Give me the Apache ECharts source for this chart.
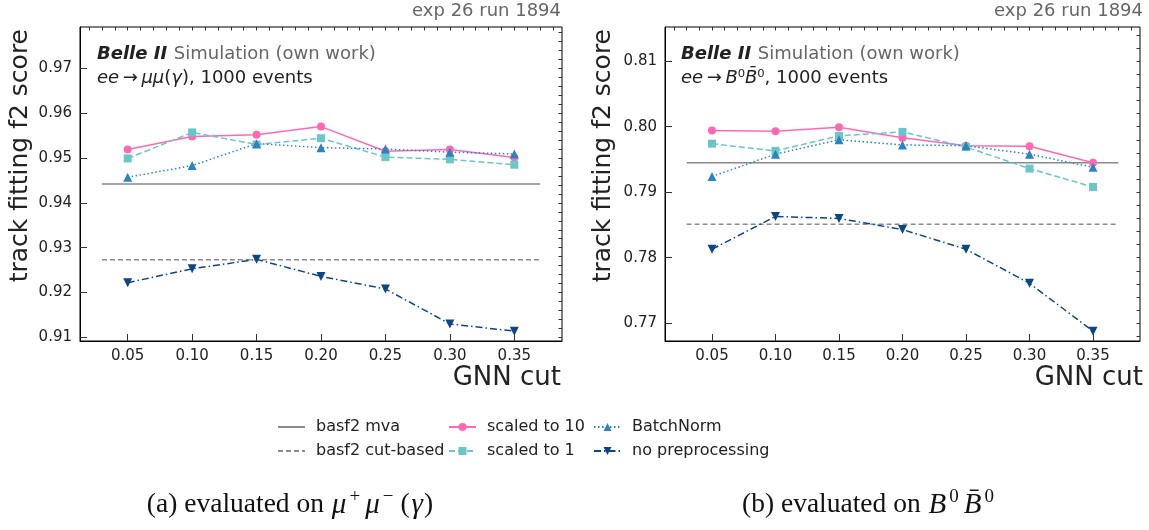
<!DOCTYPE html>
<html><head><meta charset="utf-8">
<script src="https://cdn.jsdelivr.net/npm/echarts@6/dist/echarts.min.js"></script>
<style>html,body{margin:0;padding:0;background:#fff}#c{width:1149px;height:530px}</style>
</head><body><div id="c"></div>
<script>
// ---- data ----
const cuts = [0.05, 0.10, 0.15, 0.20, 0.25, 0.30, 0.35];
const baselineSpan = [0.03, 0.37];
const xTickLabels = [0.05, 0.10, 0.15, 0.20, 0.25, 0.30, 0.35];

const mumuScaled10   = [0.9519, 0.9548, 0.9552, 0.9570, 0.9515, 0.9519, 0.9501];
const mumuScaled1    = [0.9499, 0.9557, 0.9530, 0.9544, 0.9502, 0.9497, 0.9485];
const mumuBatchNorm  = [0.9457, 0.9483, 0.9532, 0.9523, 0.9520, 0.9513, 0.9509];
const mumuNoPrep     = [0.9222, 0.9253, 0.9274, 0.9236, 0.9208, 0.9130, 0.9114];
const mumuMva = 0.9442;
const mumuCutBased = 0.9273;
const mumuYTicks = [0.91, 0.92, 0.93, 0.94, 0.95, 0.96, 0.97];

const bbScaled10  = [0.7994, 0.7993, 0.7999, 0.7983, 0.7971, 0.7970, 0.7945];
const bbScaled1   = [0.7974, 0.7963, 0.7986, 0.7992, 0.7969, 0.7936, 0.7908];
const bbBatchNorm = [0.7924, 0.7958, 0.7980, 0.7972, 0.7971, 0.7958, 0.7938];
const bbNoPrep    = [0.7813, 0.7863, 0.7860, 0.7843, 0.7813, 0.7761, 0.7688];
const bbMva = 0.7945;
const bbCutBased = 0.7851;
const bbYTicks = [0.77, 0.78, 0.79, 0.80, 0.81];

const names = ['basf2 mva', 'basf2 cut-based', 'scaled to 10', 'scaled to 1', 'BatchNorm', 'no preprocessing'];

// ---- style ----
const C = {
  mva: '#8a8a8a', cut: '#8a8a8a',
  s10: '#ff69b4', s1: '#6cc6c8', bn: '#2b84bf', np: '#0e4585'
};
const TXT = '#222222';
const FONT = 'DejaVu Sans';

function minorTicks(lo, hi, step) {
  const out = [];
  const n = Math.round((hi - lo) / step);
  for (let i = 0; i <= n; i++) out.push(+(lo + i * step).toFixed(4));
  return out;
}

const xRange = [0.013, 0.387];
const yRanges = [[0.9092, 0.9792], [0.7673, 0.8152]];
const grids = [
  {left: 80, top: 27, width: 482, height: 314},
  {left: 665, top: 27, width: 475, height: 314}
];

const xAxes = [], yAxes = [];
[0, 1].forEach(g => {
  const yTicks = g === 0 ? mumuYTicks : bbYTicks;
  xAxes.push({
    type: 'value', gridIndex: g, min: xRange[0], max: xRange[1],
    axisLine: {show: true, lineStyle: {color: '#000', width: 1}},
    axisTick: {show: true, inside: true, length: 7, customValues: xTickLabels, lineStyle: {color: '#333'}},
    axisLabel: {show: true, customValues: xTickLabels, formatter: v => v.toFixed(2), color: TXT, fontSize: 15, fontFamily: FONT, margin: 8},
    splitLine: {show: false}
  });
  xAxes.push({
    type: 'value', gridIndex: g, min: xRange[0], max: xRange[1],
    axisLine: {show: false},
    axisTick: {show: true, inside: true, length: 3.5, customValues: minorTicks(0.02, 0.38, 0.01), lineStyle: {color: '#333'}},
    axisLabel: {show: false}, splitLine: {show: false}
  });
  const yr = yRanges[g];
  yAxes.push({
    type: 'value', gridIndex: g, min: yr[0], max: yr[1],
    axisLine: {show: true, lineStyle: {color: '#000', width: 1}},
    axisTick: {show: true, inside: true, length: 7, customValues: yTicks, lineStyle: {color: '#333'}},
    axisLabel: {show: true, customValues: yTicks, formatter: v => v.toFixed(2), color: TXT, fontSize: 15, fontFamily: FONT, margin: 8},
    splitLine: {show: false}
  });
  yAxes.push({
    type: 'value', gridIndex: g, min: yr[0], max: yr[1],
    axisLine: {show: false},
    axisTick: {show: true, inside: true, length: 3.5,
      customValues: g === 0 ? minorTicks(0.910, 0.978, 0.002) : minorTicks(0.768, 0.814, 0.002), lineStyle: {color: '#333'}},
    axisLabel: {show: false}, splitLine: {show: false}
  });
});

function pts(ys) { return cuts.map((x, i) => [x, ys[i]]); }
function hline(v) { return baselineSpan.map(x => [x, v]); }

function seriesFor(g, d) {
  const xi = g * 2, yi = g * 2;
  const base = {type: 'line', xAxisIndex: xi, yAxisIndex: yi, animation: false, silent: true};
  return [
    Object.assign({}, base, {name: names[0], data: hline(d.mva), symbol: 'circle', showSymbol: false,
      lineStyle: {color: C.mva, width: 1.5, type: 'solid'}, itemStyle: {color: C.mva}}),
    Object.assign({}, base, {name: names[1], data: hline(d.cut), symbol: 'circle', showSymbol: false,
      lineStyle: {color: C.cut, width: 1.5, type: [5, 3]}, itemStyle: {color: C.cut}}),
    Object.assign({}, base, {name: names[2], data: pts(d.s10), symbol: 'circle', symbolSize: 8,
      lineStyle: {color: C.s10, width: 1.5}, itemStyle: {color: C.s10}}),
    Object.assign({}, base, {name: names[3], data: pts(d.s1), symbol: 'rect', symbolSize: 8,
      lineStyle: {color: C.s1, width: 1.5, type: [6, 3]}, itemStyle: {color: C.s1}}),
    Object.assign({}, base, {name: names[4], data: pts(d.bn), symbol: 'triangle', symbolSize: 9,
      lineStyle: {color: C.bn, width: 1.5, type: [1.5, 2.5]}, itemStyle: {color: C.bn}}),
    Object.assign({}, base, {name: names[5], data: pts(d.np), symbol: 'triangle', symbolRotate: 180, symbolSize: 9,
      lineStyle: {color: C.np, width: 1.5, type: [7, 3, 1.5, 3]}, itemStyle: {color: C.np}})
  ];
}

const series = [].concat(
  seriesFor(0, {mva: mumuMva, cut: mumuCutBased, s10: mumuScaled10, s1: mumuScaled1, bn: mumuBatchNorm, np: mumuNoPrep}),
  seriesFor(1, {mva: bbMva, cut: bbCutBased, s10: bbScaled10, s1: bbScaled1, bn: bbBatchNorm, np: bbNoPrep})
);

function legend(left, data) {
  return {
    data: data, left: left, top: 419, orient: 'vertical', itemGap: 8, padding: 0,
    itemWidth: 27, itemHeight: 10, selectedMode: false,
    textStyle: {fontSize: 16, color: TXT, fontFamily: FONT, padding: [0, 0, 0, 6]}
  };
}
const hideSym = {color: 'rgba(0,0,0,0)', borderWidth: 0, opacity: 0};

const gray = '#666666';
function headerText(x, proc) {
  return [
    {type: 'text', left: x, top: 45, style: {
      text: '{b|Belle II}  {g|Simulation (own work)}',
      rich: {b: {fontWeight: 'bold', fontStyle: 'italic', fontSize: 18, fill: TXT, fontFamily: FONT},
             g: {fontSize: 18, fill: gray, fontFamily: FONT}}
    }},
    {type: 'text', left: x, top: 69, style: {
      text: proc,
      rich: {i: {fontStyle: 'italic', fontSize: 18, fill: TXT, fontFamily: FONT},
             n: {fontSize: 18, fill: TXT, fontFamily: FONT}}
    }}
  ];
}

function yLabel(x) {
  return {type: 'text', x: x, y: 29, rotation: Math.PI / 2, style: {
    text: 'track fitting f2 score', x: 0, y: 0, align: 'right', verticalAlign: 'middle',
    fontSize: 25, fill: TXT, fontFamily: FONT}};
}

const serifN = {fontSize: 27.5, fill: '#111', fontFamily: 'Liberation Serif', lineHeight: 34};
const serifI = {fontSize: 29, fill: '#111', fontFamily: 'Liberation Serif', fontStyle: 'italic', lineHeight: 34, padding: [0, 1, 0, 1]};
const serifS = {fontSize: 19, fill: '#111', fontFamily: 'Liberation Serif', verticalAlign: 'top', lineHeight: 34, padding: [0, 4, 0, 2]};
const serifP = {fontSize: 27.5, fill: '#111', fontFamily: 'Liberation Serif', lineHeight: 34, padding: [0, 1, 0, 3]};

const graphic = [].concat(
  [
    {type: 'text', right: 1149 - 561, top: 2, style: {text: 'exp 26 run 1894', fontSize: 18, fill: gray, fontFamily: FONT}},
    {type: 'text', right: 1149 - 1143, top: 2, style: {text: 'exp 26 run 1894', fontSize: 18, fill: gray, fontFamily: FONT}},
    {type: 'text', right: 1149 - 561, top: 365, style: {text: 'GNN cut', fontSize: 26, fill: TXT, fontFamily: FONT}},
    {type: 'text', right: 1149 - 1143, top: 365, style: {text: 'GNN cut', fontSize: 26, fill: TXT, fontFamily: FONT}},
    yLabel(20), yLabel(603)
  ],
  headerText(97, '{i|ee}{n|\u2009→\u2009}{i|μμ}{n|(}{i|γ}{n|), 1000 events}'),
  headerText(681, '{i|ee}{n|\u2009→\u2009}{i|B}{n|⁰}{i|B̄}{n|⁰, 1000 events}'),
  [
    {type: 'text', x: 290, y: 505, style: {
      text: '{n|(a) evaluated on }{i|μ}{s|+}{i|μ}{s|−}{p|(}{i|γ}{n|)}', x: 0, y: 0, align: 'center', verticalAlign: 'middle',
      rich: {n: serifN, i: serifI, s: serifS, p: serifP}
    }},
    {type: 'text', x: 870, y: 505, style: {
      text: '{n|(b) evaluated on }{i|B}{s|0}{i|B̄}{s|0}', x: 0, y: 0, align: 'center', verticalAlign: 'middle',
      rich: {n: serifN, i: serifI, s: serifS}
    }}
  ]
);

const chart = echarts.init(document.getElementById('c'), null, {renderer: 'canvas'});
chart.setOption({
  backgroundColor: '#fff',
  animation: false,
  grid: grids.map(g => Object.assign({show: true, borderColor: '#000', borderWidth: 1, backgroundColor: 'transparent'}, g)),
  xAxis: xAxes,
  yAxis: yAxes,
  legend: [
    legend(277, [{name: names[0], itemStyle: hideSym}, {name: names[1], itemStyle: hideSym}]),
    legend(448, [names[2], names[3]]),
    legend(593, [names[4], names[5]])
  ],
  series: series,
  graphic: graphic
});
</script></body></html>
